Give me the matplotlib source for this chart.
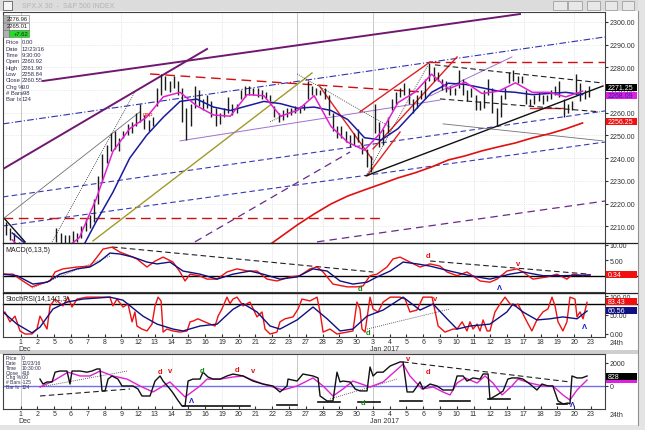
import matplotlib
matplotlib.use("Agg")
import matplotlib.pyplot as plt
from matplotlib.patches import Rectangle

plt.rcParams["font.family"] = ["Liberation Sans", "DejaVu Sans"]

# trading days, Dec 1 = 0 ... Jan 23 = 34
day_labels = ["1", "2", "5", "6", "7", "8", "9", "12", "13", "14", "15", "16", "19", "20",
              "21", "22", "23", "27", "28", "29", "30", "3", "4", "5", "6", "9", "10", "11",
              "12", "13", "17", "18", "19", "20", "23"]
month_labels = [(0, "Dec"), (21, "Jan 2017")]

# 30 min bars grouped 4 per day, Nov 30 (day -1) .. Jan 20 (day 33)
bar_high = [2212, 2209, 2207, 2203,  2202, 2198, 2196, 2194,  2198, 2195, 2194, 2194,
            2209, 2207, 2206, 2206,  2208, 2207, 2210, 2213,  2215, 2222, 2232, 2242,
            2246, 2251, 2252, 2249,  2252, 2255, 2256, 2260,  2264, 2259, 2257, 2258,
            2271, 2277, 2276, 2274,  2276, 2274, 2271, 2262,  2264, 2272, 2270, 2266,
            2268, 2265, 2262, 2260,  2262, 2267, 2264, 2264,  2270, 2272, 2272, 2271,
            2271, 2270, 2269, 2268,  2263, 2260, 2261, 2262,  2262, 2263, 2263, 2264,
            2274, 2272, 2271, 2270,  2271, 2268, 2260, 2254,  2254, 2252, 2250, 2251,
            2253, 2249, 2244, 2241,  2264, 2256, 2253, 2258,  2266, 2269, 2271, 2273,
            2271, 2266, 2268, 2270,  2275, 2282, 2280, 2278,  2275, 2274, 2272, 2271,
            2279, 2275, 2270, 2271,  2268, 2265, 2270, 2275,  2271, 2262, 2268, 2271,
            2278, 2279, 2276, 2276,  2270, 2266, 2268, 2269,  2268, 2268, 2270, 2272,
            2274, 2266, 2264, 2265,  2277, 2273, 2270, 2272]
bar_low = [2206, 2204, 2202, 2199,  2196, 2192, 2188, 2189,  2191, 2189, 2188, 2190,
           2203, 2202, 2201, 2202,  2203, 2203, 2205, 2208,  2209, 2212, 2220, 2230,
           2238, 2243, 2244, 2243,  2249, 2250, 2251, 2254,  2256, 2253, 2252, 2254,
           2263, 2268, 2270, 2269,  2271, 2268, 2256, 2248,  2254, 2262, 2263, 2261,
           2262, 2258, 2254, 2255,  2258, 2260, 2259, 2260,  2266, 2267, 2268, 2268,
           2267, 2266, 2266, 2265,  2258, 2256, 2257, 2258,  2259, 2260, 2260, 2261,
           2266, 2268, 2268, 2268,  2266, 2259, 2252, 2249,  2249, 2247, 2245, 2246,
           2247, 2242, 2236, 2234,  2251, 2245, 2246, 2251,  2261, 2264, 2267, 2268,
           2264, 2260, 2262, 2266,  2266, 2274, 2274, 2274,  2270, 2269, 2268, 2268,
           2271, 2268, 2265, 2267,  2261, 2261, 2262, 2268,  2260, 2254, 2258, 2266,
           2273, 2274, 2273, 2273,  2264, 2263, 2264, 2265,  2264, 2265, 2266, 2268,
           2267, 2258, 2260, 2261,  2268, 2265, 2266, 2267]

# moving averages, one value per day (mid-day), from day -1
ma_fast = [2204, 2196, 2194, 2199, 2205, 2222, 2243, 2253, 2258, 2267, 2269, 2263, 2259,
           2258.5, 2268, 2267.5, 2258.5, 2261, 2267.5, 2254, 2247, 2243.5, 2251.5, 2264.5,
           2269, 2277, 2270.5, 2273.5, 2268.5, 2269.5, 2273.2, 2269, 2269, 2267, 2269.5]
ma_slow = [2207, 2201, 2196, 2195, 2198, 2212, 2225, 2240, 2250, 2258, 2265, 2266, 2262.5,
           2261, 2263, 2265, 2264, 2262, 2262.5, 2261, 2257, 2249, 2248, 2253, 2261, 2269,
           2273, 2272.5, 2271, 2269.5, 2269, 2268, 2268.5, 2269, 2268]
ma_long_start = 14
ma_long = [2200, 2205.3, 2210.6, 2215.4, 2219.8, 2223.3, 2226, 2228.6, 2231.3, 2233.5,
           2236.1, 2239.2, 2241, 2243.2, 2245, 2246.7, 2248.9, 2250.7, 2252.9, 2255.5]

# MACD(6,13,5): (day, value)
macd_line = [(-1.06, 0.5), (-0.46, 0.5), (-0.04, -1.1), (0.67, -3.6), (1.15, -2.7), (1.75, -1.7),
             (2.05, 1.2), (2.52, 2.2), (3.36, 2.8), (4.13, 3.1), (4.55, 6.0), (4.91, 8.6),
             (5.44, 9.2), (5.92, 7.6), (6.51, 6.4), (6.93, 5.4), (7.53, 2.8), (8.01, 4.7),
             (8.49, 6.0), (9.08, 4.4), (9.50, 1.2), (9.80, -1.7), (10.10, 0.5), (10.69, -0.1),
             (11.11, -1.1), (11.71, -1.1), (12.30, 1.2), (12.90, 2.2), (13.55, 1.5),
             (14.09, 1.5), (14.69, -1.1), (15.28, -1.7), (16.06, -0.4), (16.65, 0.0),
             (17.25, 2.2), (17.67, 2.8), (18.03, 1.2), (18.62, -2.7), (19.46, -3.6),
             (20.05, -3.6), (20.41, -3.3), (20.83, 0.0), (21.25, 0.5), (21.84, 2.8),
             (22.20, 5.4), (22.62, 6.0), (23.21, 4.4), (23.81, 2.8), (24.41, 3.8), (25.00, 3.1),
             (25.42, 1.2), (26.02, 0.0), (26.61, 1.2), (27.39, -1.7), (27.98, -2.1),
             (28.40, -1.1), (28.99, 1.5), (29.59, 2.2), (29.95, 1.2), (30.54, -1.1),
             (31.38, -0.4), (31.97, 0.5), (32.57, -1.1), (32.93, 0.5), (33.53, 0.0), (33.95, 0.34)]
macd_signal = [(-1.06, 0.5), (-0.22, 0.0), (0.73, -2.7), (1.57, -2.1), (2.34, 0.5), (3.36, 2.2),
               (4.13, 2.8), (4.73, 4.7), (5.32, 7.3), (5.92, 7.0), (6.70, 6.0), (7.53, 4.4),
               (8.13, 3.8), (8.90, 4.4), (9.68, 1.5), (10.69, 0.5), (11.71, -1.1), (12.66, 0.5),
               (13.67, 1.5), (14.45, 0.5), (15.46, -1.1), (16.48, -0.4), (17.43, 2.2),
               (18.27, 1.5), (19.04, -1.7), (19.81, -2.7), (20.65, -2.1), (21.25, -0.4),
               (22.03, 1.5), (22.80, 4.4), (23.64, 3.8), (24.41, 3.1), (25.60, 1.5),
               (26.79, 0.0), (27.98, -1.1), (29.17, 0.5), (29.95, 1.2), (31.14, 0.0),
               (32.33, 0.0), (33.95, 0.2)]

# StochRSI: (day, value)
stoch_k = [(-1.06, 53), (-0.94, 58), (-0.64, 32), (-0.34, 47), (-0.04, 8), (0.26, 0), (0.67, 0),
           (0.97, 13), (1.15, 47), (1.57, 13), (1.75, 74), (2.05, 92), (2.52, 74), (2.82, 97),
           (3.06, 71), (3.36, 92), (3.95, 97), (5.32, 97), (5.50, 74), (5.74, 92), (6.10, 71),
           (6.40, 79), (6.64, 32), (6.81, 58), (6.93, 21), (7.23, 13), (7.53, 8), (7.83, 26),
           (8.01, 74), (8.19, 97), (8.37, 87), (8.49, 5), (8.72, 13), (9.08, 8), (9.50, 5),
           (9.92, 8), (10.10, 32), (10.28, 34), (10.57, 40), (10.87, 34), (11.29, 26),
           (11.59, 21), (11.77, 47), (12.00, 66), (12.30, 97), (12.48, 80), (12.66, 92),
           (12.90, 97), (13.26, 74), (13.67, 84), (14.09, 45), (14.39, 58), (14.57, 13),
           (14.87, 0), (15.28, 5), (15.46, 32), (15.76, 40), (16.24, 45), (16.54, 66),
           (16.77, 92), (17.25, 87), (17.67, 97), (17.85, 58), (18.03, 5), (18.44, 13),
           (18.86, 0), (19.46, 5), (19.81, 8), (20.05, 84), (20.23, 66), (20.35, 13),
           (20.53, 5), (20.83, 97), (21.01, 66), (21.31, 58), (21.61, 84), (22.03, 97),
           (22.62, 97), (22.92, 92), (23.21, 58), (23.63, 63), (23.99, 97), (24.53, 97),
           (24.89, 21), (25.30, 5), (25.78, 13), (26.02, 13), (26.32, 32), (26.61, 8),
           (26.79, 32), (26.97, 13), (27.21, 26), (27.39, 8), (27.57, 37), (27.81, 8),
           (27.98, 8), (28.28, 58), (28.58, 79), (28.88, 97), (29.18, 79), (29.47, 74),
           (29.65, 79), (29.89, 58), (30.19, 32), (30.48, 8), (30.78, 37), (31.14, 58),
           (31.44, 66), (31.68, 97), (31.86, 74), (32.04, 32), (32.33, 8), (32.57, 32),
           (32.75, 97), (33.05, 92), (33.17, 45), (33.35, 58), (33.53, 40), (33.77, 83.4)]
stoch_d = [(-1.06, 58), (-0.22, 26), (0.67, 3), (1.15, 18), (1.93, 66), (2.76, 84), (3.71, 92),
           (5.32, 97), (6.10, 89), (7.29, 47), (8.13, 26), (9.08, 13), (9.68, 8), (10.69, 21),
           (11.71, 26), (12.66, 65), (13.26, 80), (14.09, 58), (14.87, 21), (15.46, 13),
           (16.48, 37), (17.43, 71), (18.27, 40), (19.04, 8), (19.81, 13), (20.65, 47),
           (21.61, 63), (22.80, 97), (23.81, 63), (24.59, 79), (25.42, 40), (26.02, 13),
           (26.79, 21), (27.98, 26), (28.99, 58), (29.35, 79), (29.95, 58), (30.78, 37),
           (31.56, 40), (32.33, 45), (33.17, 40), (33.77, 60.6)]

# bottom oscillator: (day, value)
osc_line = [(1.15, 600), (1.33, 170), (1.57, 350), (1.87, 350), (2.05, 1200), (2.34, 1300),
            (2.76, 1300), (2.94, 170), (3.06, 1300), (3.54, 1300), (3.95, 1200), (4.25, 1300),
            (4.55, 1480), (4.73, 1480), (4.85, -430), (5.03, -430), (5.21, 600), (5.44, 870),
            (5.80, 600), (6.04, 0), (6.70, 0), (6.99, -260), (7.23, -870), (7.71, -870),
            (8.01, 430), (8.31, 870), (8.49, 430), (8.90, -260), (9.08, -600), (9.32, -1130),
            (9.62, -1740), (9.80, -1740), (9.98, 430), (10.27, 600), (10.69, 600),
            (10.87, 1200), (11.17, 780), (11.47, 600), (11.89, 600), (12.30, 870),
            (12.66, 1040), (13.26, 870), (13.85, 430), (14.45, 170), (15.04, 0), (15.46, -520),
            (15.88, 0), (15.94, 600), (16.48, 430), (16.83, 1040), (17.43, 870), (17.73, 700),
            (17.85, -870), (18.27, -1300), (18.62, -1300), (18.86, 1200), (19.04, 350),
            (19.22, 430), (19.64, 350), (19.94, -260), (20.23, -430), (20.65, -430),
            (20.83, 1650), (21.01, 870), (21.25, 1200), (21.61, 1200), (22.03, 1740),
            (22.62, 2090), (22.80, 2090), (23.04, -520), (23.40, -520), (23.81, 350),
            (23.99, -260), (24.41, 170), (24.82, 0), (25.18, -350), (25.78, -350), (26.02, 870),
            (26.38, 870), (26.61, 430), (26.97, 700), (27.39, 600), (27.57, 1040),
            (27.87, 1040), (27.98, -1130), (28.40, -780), (28.76, -440), (29.05, 600),
            (29.29, 700), (29.65, 700), (29.95, 600), (30.36, 170), (30.78, -350), (31.08, 170),
            (31.44, 0), (31.73, 0), (32.04, -1300), (32.33, -1560), (32.63, -1480),
            (32.75, -1560), (32.87, 870), (33.17, 700), (33.47, 700), (33.77, 870)]
osc_avg = [(1.15, -90), (1.93, 430), (2.82, 1200), (3.54, 870), (4.13, 870), (4.73, 1300),
           (5.50, 870), (6.34, 600), (7.11, 0), (7.89, -520), (8.90, 350), (9.80, -960),
           (10.69, 0), (11.11, 600), (11.89, 600), (12.66, 780), (13.26, 870), (13.67, 600),
           (14.45, 170), (15.64, -350), (16.48, 0), (17.43, 700), (18.03, 0), (18.62, -870),
           (19.22, -260), (19.81, 430), (20.83, -90), (21.61, 350), (22.80, 1900), (23.21, 870),
           (23.93, -260), (24.59, -90), (25.18, -520), (25.60, -780), (26.02, 260), (26.50, 700),
           (27.21, 260), (27.69, 870), (28.16, 260), (28.70, -780), (29.29, 0), (29.65, 600),
           (30.36, 260), (31.14, 0), (31.73, 0), (32.33, -780), (32.75, -1220), (33.17, -350),
           (33.77, 520)]

# drawn trendlines (day, price) pairs
purple_heavy = [((1.33, 2274.0), (29.77, 2303.5)), ((-1.06, 2235.2), (11.11, 2288.1))]
blue_dashdot = [((-1.06, 2255.1), (34.84, 2293.4))]
blue_dashed = [((-1.06, 2222.9), (34.84, 2260.8)), ((-1.06, 2210.1), (34.84, 2247.1))]
red_dashed = [((-1.06, 2213.7), (21.54, 2213.7)), ((7.71, 2277.1), (23.81, 2269.2)),
              ((24.40, 2282.4), (34.84, 2282.4))]
olive_lines = [((4.31, 2203.5), (17.37, 2277.5))]
purple_dashed = [((17.67, 2203.1), (34.84, 2221.1)), ((10.39, 2203.1), (19.64, 2242.7))]
purple_thin = [((9.50, 2247.6), (25.00, 2265.6)), ((24.41, 2267.4), (29.29, 2284.6))]
red_solid = [((17.85, 2271.4), (20.95, 2239.6)), ((20.23, 2260.4), (24.41, 2282.4)),
             ((21.01, 2244.1), (26.02, 2284.6)), ((20.65, 2232.2), (22.62, 2251.5)),
             ((30.37, 2262.1), (32.34, 2262.1))]
black_solid = [((20.59, 2232.2), (34.72, 2271.8)), ((-1.06, 2214.1), (0.26, 2203.1))]
black_dotted = [((16.48, 2277.1), (22.02, 2253.7)), ((20.59, 2232.2), (24.29, 2281.1)),
                ((1.87, 2203.1), (6.81, 2269.2)), ((14.87, 2256.0), (16.48, 2261.7))]
black_dashed = [((24.70, 2281.1), (34.72, 2273.1)), ((25.0, 2266.1), (34.54, 2260.4))]
grey_thin = [((25.18, 2255.1), (34.72, 2247.6)), ((-1.06, 2213.2), (7.11, 2260.4))]

macd_dashed = [((5.45, 9.26), (21.01, 1.19)), ((24.41, 4.74), (33.77, 0.55))]
macd_dotted = [((0.67, -3.97), (5.32, 6.35))]
stoch_dotted = [((20.65, 13), (25.6, 66))]
osc_dotted = [((1.15, -90), (6.34, 1300)), ((18.44, -1130), (22.44, 610))]
osc_dashed = [((1.15, -870), (6.52, -260)), ((22.80, 2090), (32.75, 350))]
osc_floor = [((9.68, -1740), (13.67, -1740)), ((15.28, -1650), (16.48, -1650)),
             ((17.73, -1390), (19.04, -1390)), ((20.11, -1390), (21.43, -1390)),
             ((22.62, -1300), (23.93, -1300)), ((25.0, -1300), (26.79, -1300)),
             ((27.87, -1130), (29.18, -1130)), ((31.98, -1560), (32.57, -1560))]

RED, GREEN, BLUE = "#e01010", "#108a10", "#1414c8"
main_marks = [("gap", 7.59, 2259.5, RED)]
macd_marks = [("d", 20.23, -4.2, GREEN), ("d", 24.29, 6.6, RED), ("v", 29.65, 3.8, RED),
              ("Λ", 28.58, -3.9, BLUE)]
stoch_marks = [("d", 20.71, 3, GREEN), ("v", 24.7, 94, RED), ("Λ", 33.59, 20, BLUE)]
osc_marks = [("d", 8.31, 1250, RED), ("v", 8.9, 1350, RED), ("Λ", 10.21, -1300, BLUE),
             ("d", 10.81, 1350, GREEN), ("d", 12.9, 1450, RED), ("v", 13.85, 1350, RED),
             ("d", 20.41, -1400, GREEN), ("v", 23.1, 2350, RED), ("d", 24.29, 1250, RED),
             ("Λ", 32.93, -1650, BLUE)]

info_main = [("Price", "0.00"), ("Date", "12/23/16"), ("Time", "9:30:00"), ("Open", "2260.92"),
             ("High", "2261.90"), ("Low", "2258.84"), ("Close", "2260.55"), ("Chg %", "0.0"),
             ("# Bars", "-98"), ("Bar Ix", "124")]
info_osc = [("Price", "0"), ("Date", "12/23/16"), ("Time", "10:30:00"), ("Close", "416"),
            ("Chg %", "0.0"), ("# Bars", "-125"), ("Bar Ix", "124")]

# ---------------------------------------------------------------
W, H = 645, 431
fig = plt.figure(figsize=(W / 100, H / 100), dpi=100)
fig.patch.set_facecolor("white")


def rect(x0, y0, x1, y1):
    return [x0 / W, 1 - y1 / H, (x1 - x0) / W, (y1 - y0) / H]


X0, X1 = -1.055, 34.84
ax = fig.add_axes(rect(3, 13, 605, 244))
am = fig.add_axes(rect(3, 244, 605, 293))
ak = fig.add_axes(rect(3, 294, 605, 338))
ao = fig.add_axes(rect(3, 355, 605, 410))
ax.set_ylim(2202.6, 2304.4)
am.set_ylim(-5.26, 10.55)
ak.set_ylim(-7.9, 107.9)
ao.set_ylim(-2000, 2780)

for a in (ax, am, ak, ao):
    a.set_xlim(X0, X1)
    a.yaxis.tick_right()
    a.tick_params(axis="y", labelsize=5, length=2, pad=1.5, colors="#303030")
    for s in a.spines.values():
        s.set_color("#404040")
        s.set_linewidth(0.8)
    # faint grid / separators
    for t in range(3, 34, 3):
        a.axvline(t, color="#d0d0d0", lw=0.5, ls=":", zorder=0)
    for t in (0, 16.5, 21):
        a.axvline(t, color="#c8c8c8", lw=0.7, zorder=0)

for a in (ax, am):
    a.set_xticks([])

for a in (ak, ao):
    a.set_xticks(range(len(day_labels)))
    a.set_xticklabels(day_labels)
    a.tick_params(axis="x", labelsize=5, length=2, pad=1, colors="#303030", direction="in")
    for t, name in month_labels:
        a.annotate(name, xy=(t - 0.15, 0), xycoords=("data", "axes fraction"),
                   xytext=(0, -5.6), textcoords="offset points", fontsize=5,
                   ha="left", va="top", color="#303030", annotation_clip=False)
    a.annotate("24th", xy=(1, 0), xycoords="axes fraction", xytext=(3, -1.5),
               textcoords="offset points", fontsize=5, va="top", color="#303030",
               annotation_clip=False)

# ---- main price panel ----
pt = list(range(2210, 2301, 10))
ax.set_yticks(pt)
ax.set_yticklabels([f"{v:.2f}" for v in pt])
for v in pt:
    ax.axhline(v, color="#d8d8d8", lw=0.5, ls=":", zorder=0)


def draw_segments(a, segs, **kw):
    for (t0, v0), (t1, v1) in segs:
        a.plot([t0, t1], [v0, v1], **kw)


draw_segments(ax, purple_heavy, color="#701870", lw=1.4, zorder=2)
draw_segments(ax, blue_dashdot, color="#3030b0", lw=0.8, ls=(0, (6, 2, 1, 2)), zorder=2)
draw_segments(ax, blue_dashed, color="#3838b8", lw=0.8, ls=(0, (5, 3)), zorder=2)
draw_segments(ax, red_dashed, color="#d01010", lw=1.0, ls=(0, (7, 4)), zorder=2)
draw_segments(ax, olive_lines, color="#a09a28", lw=1.0, zorder=2)
draw_segments(ax, purple_dashed, color="#6a2a8a", lw=0.9, ls=(0, (6, 4)), zorder=2)
draw_segments(ax, purple_thin, color="#a070d0", lw=0.7, zorder=2)
draw_segments(ax, red_solid, color="#e02020", lw=1.0, zorder=2)
draw_segments(ax, black_solid, color="#101010", lw=1.0, zorder=2)
draw_segments(ax, black_dotted, color="#202020", lw=0.6, ls=(0, (1, 1.5)), zorder=2)
draw_segments(ax, black_dashed, color="#202020", lw=0.8, ls=(0, (5, 3)), zorder=2)
draw_segments(ax, grey_thin, color="#707070", lw=0.6, zorder=2)

bar_t = [d + (k + 0.5) / 4 for d in range(-1, 34) for k in range(4)]
ax.vlines(bar_t, bar_low, bar_high, color="#1a1a1a", lw=1.0, zorder=3)

day_mid = [d + 0.5 for d in range(-1, 34)]
ax.plot(day_mid, ma_slow, color="#1a1aa0", lw=1.1, zorder=4)
ax.plot(day_mid, ma_fast, color="#e020d0", lw=1.1, zorder=4)
long_t = [d + 0.5 for d in range(ma_long_start, ma_long_start + len(ma_long))]
ax.plot(long_t, ma_long, color="#e01010", lw=1.2, zorder=4)

for txt, t, v, c in main_marks:
    ax.text(t, v, txt, color=c, fontsize=4.5, ha="center", va="center", zorder=6)

# info block
for i, (k, v) in enumerate(info_main):
    yy = 43 + i * 6.3
    fig.text(6 / W, 1 - yy / H, k, fontsize=4.2, color="#303050", va="center")
    fig.text(22 / W, 1 - yy / H, v, fontsize=4.2, color="#303050", va="center")

# ---- MACD ----
am.set_yticks([5, 10])
am.set_yticklabels(["5.00", "10.00"])
am.axhline(0, color="black", lw=1.0, xmax=1.053, clip_on=False, zorder=2)
draw_segments(am, macd_dashed, color="#202020", lw=0.8, ls=(0, (5, 3)))
draw_segments(am, macd_dotted, color="#303030", lw=0.6, ls=(0, (1, 1.5)))
am.plot(*zip(*macd_line), color="#ee1111", lw=1.0, zorder=3)
am.plot(*zip(*macd_signal), color="#101080", lw=1.0, zorder=3)
for txt, t, v, c in macd_marks:
    am.text(t, v, txt, color=c, fontsize=5.5, fontweight="bold", ha="center", va="center")
am.text(0.004, 0.93, "MACD(6,13,5)", transform=am.transAxes, fontsize=5, va="top", color="#202020")

# ---- StochRSI ----
ak.set_yticks([0, 50, 100])
ak.set_yticklabels(["0.00", "50.00", "100.00"])
ak.axhline(80, color="black", lw=1.0, xmax=1.053, clip_on=False, zorder=2)
draw_segments(ak, stoch_dotted, color="#303030", lw=0.6, ls=(0, (1, 1.5)))
ak.plot(*zip(*stoch_k), color="#ee1111", lw=1.0, zorder=3)
ak.plot(*zip(*stoch_d), color="#101080", lw=1.0, zorder=3)
for txt, t, v, c in stoch_marks:
    ak.text(t, v, txt, color=c, fontsize=5.5, fontweight="bold", ha="center", va="center")
ak.text(0.004, 0.96, "StochRSI(14,14(1,3)", transform=ak.transAxes, fontsize=5, va="top", color="#202020")

# ---- bottom oscillator ----
ao.set_yticks([0, 2000])
ao.set_yticklabels(["0", "2000"])
ao.axhline(0, color="#7070e8", lw=1.0, zorder=2)
draw_segments(ao, osc_dotted, color="#303030", lw=0.6, ls=(0, (1, 1.5)))
draw_segments(ao, osc_dashed, color="#202020", lw=0.8, ls=(0, (5, 3)))
draw_segments(ao, osc_floor, color="#101010", lw=1.2)
ao.plot(*zip(*osc_avg), color="#e020d0", lw=1.0, zorder=3)
ao.plot(*zip(*osc_line), color="#101010", lw=1.0, zorder=3)
for txt, t, v, c in osc_marks:
    ao.text(t, v, txt, color=c, fontsize=5.5, fontweight="bold", ha="center", va="center")
for i, (k, v) in enumerate(info_osc):
    yy = 359 + i * 4.7
    fig.text(6 / W, 1 - yy / H, k, fontsize=3.6, color="#303050", va="center")
    fig.text(22 / W, 1 - yy / H, v, fontsize=3.6, color="#303050", va="center")


# ---- value tags in the right column ----
def tag(a, v, txt, fc, tc="white", h=7):
    yf = a.transData.transform((0, v))[1] / H
    fig.add_artist(Rectangle((606 / W, yf - h / 2 / H), 31 / W, h / H,
                             transform=fig.transFigure, fc=fc, ec="none", zorder=5))
    if txt:
        fig.text(608 / W, yf, txt, color=tc, fontsize=5, va="center", zorder=6)


tag(ax, 2271.0, "2271.25", "#000000")
tag(ax, 2267.4, "2268.09", "#e020e0", tc="#2020a0")
tag(ax, 2256.0, "2256.25", "#f01010")
tag(am, 0.34, "0.34", "#f01010")
tag(ak, 84.5, "83.43", "#f01010")
tag(ak, 62.5, "60.56", "#101080")
tag(ao, 828, "828", "#000000")
tag(ao, 400, "", "#e020e0", h=3)

# ---- window chrome ----
fig.add_artist(Rectangle((0, 1 - 12 / H), 1, 12 / H, transform=fig.transFigure,
                         fc="#dcdcdc", ec="none", zorder=1))
fig.text(22 / W, 1 - 6.5 / H, "SPX.X 30  -  S&P 500 INDEX", fontsize=5, color="#b4b4b4", va="center")
fig.add_artist(Rectangle((3 / W, 1 - 11 / H), 9 / W, 9 / H, transform=fig.transFigure,
                         fc="#f4f4f4", ec="#606060", lw=0.6, zorder=2))
for x0, x1 in ((553, 567), (568, 582), (587, 600), (605, 617), (622, 634)):
    fig.add_artist(Rectangle((x0 / W, 1 - 11 / H), (x1 - x0) / W, 9 / H, transform=fig.transFigure,
                             fc="#e8e8e8", ec="#a0a0a0", lw=0.6, zorder=2))
fig.add_artist(Rectangle((638 / W, 0), 7 / W, 1, transform=fig.transFigure,
                         fc="#e4e4e4", ec="none", zorder=1))
fig.add_artist(Rectangle((0, 0), 1, 5 / H, transform=fig.transFigure,
                         fc="#e4e4e4", ec="none", zorder=1))
# grey band between stoch and oscillator panels (behind the month labels)
fig.add_artist(Rectangle((0, 1 - 354.5 / H), 638 / W, 3.5 / H, transform=fig.transFigure,
                         fc="#cfcfcf", ec="none", zorder=-1))
for yy in (244, 293.5):
    fig.add_artist(plt.Line2D([3 / W, 637 / W], [1 - yy / H] * 2, transform=fig.transFigure,
                              color="#202020", lw=0.9, zorder=2))
fig.add_artist(plt.Line2D([638 / W] * 2, [5 / H, 1 - 12 / H], transform=fig.transFigure,
                          color="#909090", lw=0.8, zorder=2))

# top-left last bar boxes
for i, (txt, fc) in enumerate([("2276.96", "white"), ("2265.01", "white"), ("+7.62", "#22dd22")]):
    y0 = 16 + i * 7.5
    fig.add_artist(Rectangle((3 / W, 1 - (y0 + 7) / H), 6 / W, 7 / H, transform=fig.transFigure,
                             fc="#b0b0b0", ec="#707070", lw=0.4, zorder=5))
    fig.add_artist(Rectangle((9 / W, 1 - (y0 + 7) / H), 20 / W, 7 / H, transform=fig.transFigure,
                             fc=fc, ec="#707070", lw=0.4, zorder=5))
    fig.text(28 / W, 1 - (y0 + 3.5) / H, txt, fontsize=4.2, ha="right", va="center",
             color="#202020", zorder=6)

fig.savefig("out.png", dpi=100)
